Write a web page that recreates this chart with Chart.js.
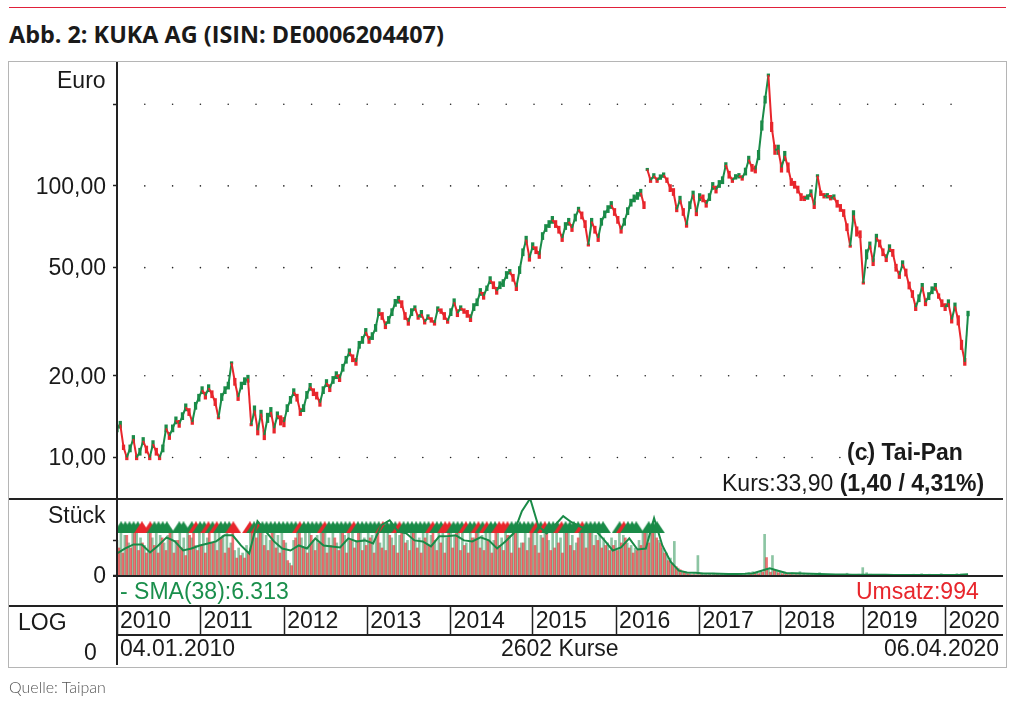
<!DOCTYPE html>
<html lang="de">
<head>
<meta charset="utf-8">
<title>Abb. 2: KUKA AG</title>
<script src="https://cdn.jsdelivr.net/npm/chart.js@4"></script>
<style>
  html, body { margin: 0; padding: 0; background: #fff; }
  #page { position: relative; width: 1024px; height: 709px; overflow: hidden; font-family: "Liberation Sans", sans-serif; color: #1a1a1a; }
  #kurve { position: absolute; left: 0; top: 0; }
  .line { position: absolute; background: #222; }
  .txt { position: absolute; font-size: 23px; line-height: 26px; white-space: nowrap; }
  #redline { position: absolute; left: 9px; top: 7px; width: 997px; height: 1px; background: #e0203a; }
  #title { position: absolute; left: 9px; top: 19px; font: 700 23.4px "Open Sans", sans-serif; line-height: 30px; color: #1a1a1a; white-space: nowrap; }
  #frame { position: absolute; left: 8px; top: 61px; width: 997px; height: 605px; border: 1px solid #b5b5b5; }
  #source { position: absolute; left: 9px; top: 677px; font: 300 16px Lato, sans-serif; line-height: 20px; color: #555; }
</style>
</head>
<body>
<div id="page">
  <div id="redline"></div>
  <div id="title">Abb. 2: KUKA AG (ISIN: DE0006204407)</div>
  <canvas id="kurve" width="1024" height="709"></canvas>
  <div id="frame"></div>
  <div class="line" style="left:116px;top:62px;width:2px;height:603px"></div>
  <div class="line" style="left:9px;top:498px;width:994px;height:2px"></div>
  <div class="line" style="left:113px;top:575px;width:890px;height:2px"></div>
  <div class="line" style="left:9px;top:605px;width:994px;height:2px"></div>
  <div class="line" style="left:117px;top:634px;width:886px;height:2px"></div>
  <div class="txt" style="left:57px;top:67px">Euro</div>
  <div class="txt" style="left:48px;top:502px">Stück</div>
  <div class="txt" style="left:18px;top:609px">LOG</div>
  <div class="txt" style="left:84px;top:639px">0</div>
  <div class="txt" style="left:120px;top:635px">04.01.2010</div>
  <div class="txt" style="left:501px;top:635px">2602 Kurse</div>
  <div class="txt" style="left:884px;top:635px">06.04.2020</div>
  <div class="txt" style="left:120px;top:578px;color:#1a8f4c">- SMA(38):6.313</div>
  <div class="txt" style="left:856px;top:578px;color:#e8262c">Umsatz:994</div>
  <div class="txt" style="left:847px;top:439px;font-weight:700">(c) Tai-Pan</div>
  <div class="txt" style="left:722px;top:470px">Kurs:33,90 <b>(1,40 / 4,31%)</b></div>
  <div id="source">Quelle: Taipan</div>
</div>

<script>
// Trading day number where each calendar year starts (the x axis counts the 2602 trading days)
const yearLabels = ["2010", "2011", "2012", "2013", "2014", "2015", "2016", "2017", "2018", "2019", "2020"];
const yearStarts = [0, 255, 511, 765, 1020, 1271, 1526, 1781, 2030, 2282, 2533];

const priceTicks = [10, 20, 50, 100, 200];
const gridDays = [85, 170, 255, 340, 425, 510, 595, 680, 765, 850, 935, 1020, 1105, 1190, 1275, 1360, 1445, 1530, 1615, 1700, 1785, 1870, 1955, 2040, 2125, 2210, 2295, 2380, 2465, 2550];

// Price, one value every 10 trading days
const prices = [
  12.8, 13.2, 10.9, 10.0, 10.8, 11.7, 10.0, 10.5, 11.5, 10.7, 10.0, 11.2, 10.5, 10.0, 10.8, 12.8,
  12.0, 12.8, 13.7, 13.3, 14.2, 15.3, 14.7, 13.5, 15.5, 16.6, 17.7, 16.9, 18.0, 17.1, 16.0, 14.0,
  16.7, 17.7, 18.4, 22.3, 19.0, 16.7, 18.4, 19.1, 19.5, 13.2, 14.9, 12.6, 14.5, 12.1, 14.0, 14.7,
  12.8, 14.3, 13.7, 13.5, 15.2, 16.3, 17.4, 16.6, 14.7, 15.2, 17.0, 18.2, 17.4, 16.9, 15.9, 17.7,
  18.8, 18.0, 19.3, 20.1, 19.6, 21.4, 22.9, 24.4, 23.2, 22.5, 26.0, 27.1, 29.0, 27.1, 28.0, 30.0,
  34.3, 33.2, 30.7, 32.1, 34.3, 37.1, 38.1, 36.7, 33.2, 31.6, 34.3, 35.5, 32.9, 33.8, 31.6, 32.9,
  32.1, 31.3, 35.2, 34.6, 33.2, 31.8, 34.3, 37.3, 34.0, 35.5, 34.6, 33.8, 32.6, 35.8, 37.3, 40.7,
  39.4, 42.0, 45.0, 43.1, 41.1, 43.1, 43.9, 47.0, 48.3, 45.9, 42.4, 49.0, 57.0, 63.4, 54.4, 60.0,
  58.0, 55.7, 65.4, 70.0, 72.4, 75.0, 72.4, 69.0, 64.3, 71.2, 73.8, 70.0, 76.5, 81.9, 77.9, 72.4,
  60.6, 73.8, 69.0, 64.3, 73.8, 78.6, 82.2, 85.1, 80.2, 75.0, 69.0, 73.8, 80.8, 86.8, 90.0, 91.9,
  94.4, 85.0, 115, 105, 108.9, 105, 107.8, 109.6, 105, 98.2, 95.0, 81.9, 89.0, 80.2, 71.8, 85.0,
  93.0, 80.0, 91.0, 90.0, 86.0, 91.0, 100, 97.0, 101.7, 105, 119.5, 110, 105, 108, 109, 107,
  113, 125, 116.6, 115, 130, 167, 208, 256, 165, 136, 136, 117, 129, 117, 103.4, 101,
  97.0, 91.0, 90.0, 91.0, 94.0, 85.0, 109, 94.0, 92.0, 92.0, 90.5, 91.0, 86.0, 83.0, 79.5, 70.5,
  60.0, 78.0, 68.0, 66.4, 43.9, 56.0, 60.4, 52.4, 64.5, 61.4, 57.0, 54.2, 59.0, 56.7, 50.0, 47.0,
  51.5, 48.0, 43.0, 40.0, 35.8, 38.6, 42.5, 37.3, 39.3, 41.3, 42.5, 39.3, 37.0, 35.8, 37.0, 32.2,
  36.0, 32.0, 26.0, 22.5, 33.9
];
// Half of the day's high-low range around the price, in percent
const priceSwing = [
  3, 3, 2, 2, 3, 3, 2, 3, 3, 3, 2, 3, 3, 2, 3, 3,
  3, 3, 3, 3, 3, 3, 3, 2, 3, 3, 3, 3, 3, 3, 3, 1,
  3, 3, 3, 1, 3, 3, 3, 3, 3, 1, 4, 4, 3, 4, 4, 4,
  4, 3, 4, 4, 3, 3, 3, 3, 3, 3, 3, 3, 3, 3, 3, 3,
  3, 3, 3, 3, 3, 3, 3, 3, 3, 3, 3, 3, 3, 3, 3, 3,
  3, 3, 3, 3, 3, 3, 3, 3, 3, 3, 3, 2, 2, 3, 2, 2,
  2, 2, 2, 2, 3, 2, 3, 3, 3, 2, 2, 3, 3, 3, 3, 3,
  3, 2, 3, 3, 3, 3, 3, 3, 2, 3, 3, 3, 3, 3, 3, 3,
  3, 3, 3, 3, 3, 3, 3, 3, 3, 3, 3, 3, 3, 2, 3, 3,
  1, 3, 3, 3, 3, 3, 3, 3, 3, 3, 3, 3, 3, 3, 3, 3,
  3, 3, 1, 2, 2, 2, 2, 2, 2, 3, 3, 2, 3, 3, 2, 3,
  3, 3, 3, 3, 3, 3, 3, 3, 3, 3, 2, 3, 2, 2, 2, 2,
  3, 3, 3, 3, 4, 4, 3, 1, 4, 4, 4, 4, 4, 4, 3, 3,
  3, 3, 2, 2, 3, 3, 1, 2, 2, 2, 2, 2, 3, 3, 3, 3,
  1, 4, 4, 3, 1, 4, 3, 3, 3, 3, 3, 3, 3, 3, 3, 3,
  3, 3, 3, 3, 3, 3, 3, 3, 3, 3, 3, 2, 3, 3, 3, 3,
  3, 4, 4, 3, 2
];

// Volume in thousand pieces, one green and one red bar every 12 trading days
const volumeUp = [
  140, 168, 160, 130, 168, 168, 150, 120, 168, 150, 168, 160, 130, 160, 168, 140, 168, 150, 168, 150,
  120, 168, 168, 150, 130, 168, 168, 160, 168, 130, 100, 110, 90, 120, 168, 168, 168, 168, 160, 140,
  168, 160, 168, 130, 50, 140, 168, 150, 168, 168, 140, 160, 168, 168, 150, 168, 130, 168, 160, 168,
  168, 140, 168, 150, 168, 160, 168, 130, 168, 168, 150, 168, 160, 168, 140, 168, 168, 150, 168, 168,
  160, 140, 168, 168, 150, 168, 160, 168, 168, 130, 168, 150, 168, 160, 168, 168, 140, 168, 150, 168,
  160, 168, 168, 130, 168, 150, 168, 168, 160, 168, 140, 168, 168, 150, 168, 168, 160, 130, 168, 168,
  168, 168, 160, 168, 150, 130, 150, 140, 168, 160, 130, 120, 110, 140, 168, 168, 168, 168, 140, 110,
  90, 70, 136, 30, 18, 12, 8, 8, 80, 6, 5, 8, 10, 6, 5, 8, 6, 5, 4, 6,
  5, 12, 16, 14, 18, 164, 24, 80, 22, 18, 14, 10, 12, 8, 16, 10, 8, 7, 6, 12,
  6, 5, 4, 4, 5, 4, 10, 5, 4, 6, 32, 12, 6, 4, 3, 3, 4, 3, 3, 3,
  3, 4, 3, 6, 4, 8, 4, 6, 4, 5, 8, 5, 4, 4, 8, 5, 4
];
const volumeDown = [
  110, 90, 160, 110, 168, 100, 130, 90, 168, 120, 90, 150, 100, 168, 90, 140, 110, 80, 160, 168,
  100, 120, 90, 168, 130, 100, 150, 90, 110, 168, 70, 80, 70, 90, 168, 150, 168, 120, 100, 168,
  110, 90, 140, 60, 40, 150, 168, 110, 90, 160, 100, 130, 168, 90, 120, 150, 100, 168, 90, 140,
  110, 168, 100, 120, 150, 90, 168, 110, 100, 160, 120, 90, 168, 130, 100, 168, 110, 90, 150, 120,
  168, 100, 130, 90, 168, 110, 168, 100, 120, 90, 150, 168, 110, 100, 140, 90, 168, 120, 100, 160,
  90, 168, 110, 130, 100, 168, 120, 90, 150, 168, 100, 110, 130, 90, 168, 120, 100, 150, 168, 110,
  168, 120, 140, 110, 120, 100, 120, 100, 130, 150, 110, 90, 100, 120, 168, 130, 168, 150, 130, 90,
  60, 48, 36, 24, 14, 8, 4, 4, 4, 3, 3, 3, 4, 3, 3, 3, 3, 3, 3, 3,
  3, 6, 10, 8, 14, 72, 14, 24, 12, 8, 6, 5, 4, 4, 3, 3, 3, 3, 3, 3
];

// 38 day moving average of the volume, thousand pieces, evenly spread over the trading days
const volumeSma = [
  88, 108, 124, 124, 92, 120, 152, 136, 100, 108, 120, 128, 136, 160, 160, 120, 88, 216, 176, 136,
  108, 100, 120, 108, 148, 120, 116, 112, 148, 136, 140, 128, 200, 220, 176, 168, 140, 136, 116, 156,
  156, 160, 140, 136, 152, 140, 108, 136, 168, 256, 306, 196, 168, 200, 236, 212, 196, 180, 176, 140,
  100, 112, 148, 104, 108, 228, 120, 56, 20, 13, 12, 9, 9, 8, 7, 7, 8, 10, 20, 29,
  20, 11, 10, 9, 8, 7, 6, 5, 5, 4, 4, 4, 4, 4, 3, 3, 3, 3, 3, 3,
  3, 3, 4, 6.3
];

// Peak markers on top of the volume band, one slot every 12.7 trading days (g, r or empty)
const peakSlots = "-gggggr-rgggg--gg-grggrgrgggr---rgrgggggggggrgggggrggggggrggggggrgggrgggggggrggrrgggrggrgrggrrrggggggrgrgggrggggrggggg---grggg--ggg";
const peakLevel = 192;

const green = "#1a8b48";
const red = "#e8262c";

function triangle(color) {
  const c = document.createElement("canvas");
  c.width = 16;
  c.height = 12;
  const g = c.getContext("2d");
  g.fillStyle = color;
  g.beginPath();
  g.moveTo(8, 0);
  g.lineTo(16, 12);
  g.lineTo(0, 12);
  g.closePath();
  g.fill();
  return c;
}

const peaks = [];
const peakStyles = [];
const triGreen = triangle(green);
const triRed = triangle(red);
Array.from(peakSlots).forEach((s, i) => {
  if (s === "-") return;
  peaks.push({ x: i * 12.7, y: peakLevel });
  peakStyles.push(s === "r" ? triRed : triGreen);
});

const gridPoints = [];
priceTicks.forEach((p) => gridDays.forEach((d) => gridPoints.push({ x: d, y: p })));

const priceDay = (i) => (i * 2602) / (prices.length - 1);
const isUp = (i) => i === 0 || prices[i] >= prices[i - 1];

const chartConfig = {
  data: {
    datasets: [
      {
        type: "scatter",
        data: gridPoints,
        yAxisID: "price",
        pointRadius: 0.8,
        pointBackgroundColor: "#222",
        pointBorderWidth: 0,
        order: 6,
      },
      {
        type: "bar",
        data: prices.map((v, i) => ({
          x: priceDay(i),
          y: [v * (1 - priceSwing[i] / 100), v * (1 + priceSwing[i] / 100)],
        })),
        yAxisID: "price",
        backgroundColor: prices.map((v, i) => (isUp(i) ? green : red)),
        barThickness: 2.6,
        grouped: false,
        order: 5,
      },
      {
        type: "line",
        data: prices.map((v, i) => ({ x: priceDay(i), y: v })),
        yAxisID: "price",
        borderWidth: 2,
        pointRadius: 0,
        tension: 0,
        segment: {
          // the gap of 2016 is not joined up in the picture
          borderColor: (c) => (c.p0DataIndex === 161 ? "rgba(0,0,0,0)" : c.p1.parsed.y >= c.p0.parsed.y ? green : red),
        },
        order: 1,
      },
      {
        type: "bar",
        data: volumeUp.map((v, i) => ({ x: i * 12, y: v })),
        yAxisID: "volume",
        backgroundColor: "rgba(26, 139, 72, 0.5)",
        barThickness: 2,
        grouped: false,
        order: 4,
      },
      {
        type: "bar",
        data: volumeDown.map((v, i) => ({ x: i * 12 + 6, y: v })),
        yAxisID: "volume",
        backgroundColor: "rgba(232, 38, 44, 0.65)",
        barThickness: 2,
        grouped: false,
        order: 3,
      },
      {
        type: "scatter",
        data: peaks,
        yAxisID: "volume",
        pointStyle: peakStyles,
        pointRadius: 6,
        order: 2,
      },
      {
        type: "line",
        data: volumeSma.map((v, i) => ({ x: (i * 2602) / (volumeSma.length - 1), y: v })),
        yAxisID: "volume",
        borderColor: green,
        borderWidth: 2,
        pointRadius: 0,
        tension: 0,
        order: 0,
      },
    ],
  },
  options: {
    responsive: false,
    animation: false,
    devicePixelRatio: 1,
    layout: { padding: { left: 0, right: 18, top: 62, bottom: 74 } },
    plugins: { legend: { display: false }, tooltip: { enabled: false } },
    scales: {
      x: {
        type: "linear",
        position: "bottom",
        min: 0,
        max: 2718,
        offset: false,
        afterBuildTicks: (axis) => {
          axis.ticks = yearStarts.map((v) => ({ value: v }));
        },
        afterFit: (axis) => {
          axis.height = 30;
          axis.paddingLeft = 0;
          axis.paddingRight = 0;
        },
        border: { display: false },
        grid: { offset: false, drawOnChartArea: false, tickLength: 30, tickColor: "#222", tickWidth: 1.5 },
        ticks: {
          autoSkip: false,
          maxRotation: 0,
          align: "start",
          labelOffset: 3,
          padding: -27,
          color: "#1a1a1a",
          font: { family: "Liberation Sans", size: 23 },
          callback: (v) => yearLabels[yearStarts.indexOf(v)],
        },
      },
      volume: {
        type: "linear",
        position: "left",
        stack: "panels",
        stackWeight: 107,
        min: -116,
        max: 308,
        afterBuildTicks: (axis) => {
          axis.ticks = [{ value: 0 }, { value: 140 }];
        },
        afterFit: (axis) => {
          axis.width = 117;
        },
        border: { display: false },
        grid: { drawOnChartArea: false, tickLength: 4, tickColor: "#222", tickWidth: 1.5 },
        ticks: {
          autoSkip: false,
          padding: 7,
          labelOffset: 1,
          color: "#1a1a1a",
          font: { family: "Liberation Sans", size: 23 },
          callback: (v) => (v === 0 ? "0" : ""),
        },
      },
      price: {
        type: "logarithmic",
        position: "left",
        stack: "panels",
        stackWeight: 436,
        min: 7.09,
        max: 286,
        afterBuildTicks: (axis) => {
          axis.ticks = priceTicks.map((v) => ({ value: v }));
        },
        afterFit: (axis) => {
          axis.width = 117;
        },
        border: { display: false },
        grid: { drawOnChartArea: false, tickLength: 4, tickColor: "#222", tickWidth: 1.5 },
        ticks: {
          autoSkip: false,
          padding: 7,
          labelOffset: 1.5,
          color: "#1a1a1a",
          font: { family: "Liberation Sans", size: 23 },
          callback: (v) => (v === 200 ? "" : v.toFixed(2).replace(".", ",")),
        },
      },
    },
  },
};

new Chart(document.getElementById("kurve").getContext("2d"), chartConfig);
</script>
</body>
</html>
